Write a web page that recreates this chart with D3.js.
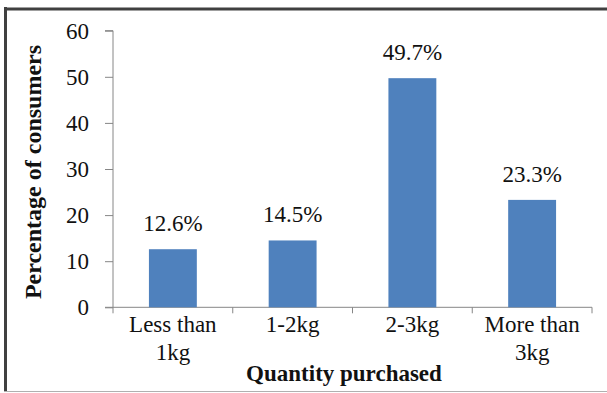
<!DOCTYPE html>
<html><head><meta charset="utf-8">
<script src="https://cdn.jsdelivr.net/npm/d3@7"></script>
<style>body{margin:0;background:#fff;} svg{display:block;} text{font-family:"Times New Roman","Liberation Serif",serif;}</style>
</head><body>
<svg id="c" width="607" height="393"></svg>
<script>
const categories = [["Less than","1kg"],["1-2kg"],["2-3kg"],["More than","3kg"]];
const values = [12.6, 14.5, 49.7, 23.3];
const valueLabels = ["12.6%","14.5%","49.7%","23.3%"];
const yTicks = [0,10,20,30,40,50,60];
const xTitle = "Quantity purchased";
const yTitle = "Percentage of consumers";

(function(){
const svg = d3.select("#c");
const pL = 113, pR = 592, pT = 30.7, pB = 307.3;
const fs = 23;

// frame
svg.append("line").attr("x1",5.5).attr("x2",5.5).attr("y1",7).attr("y2",392).attr("stroke","#404040").attr("stroke-width",3);
svg.append("line").attr("x1",4).attr("x2",607).attr("y1",9).attr("y2",9).attr("stroke","#404040").attr("stroke-width",3);
svg.append("line").attr("x1",4).attr("x2",607).attr("y1",391.5).attr("y2",391.5).attr("stroke","#b0b0b0").attr("stroke-width",1);

const x = d3.scaleBand().domain(d3.range(values.length)).range([pL,pR]).paddingInner(0.6).paddingOuter(0.3);
const xb = d3.scaleBand().domain(d3.range(values.length)).range([pL,pR]);
const y = d3.scaleLinear().domain([0,60]).range([pB,pT]);

// y axis
const ya = svg.append("g").attr("transform",`translate(${pL},0)`)
  .call(d3.axisLeft(y).tickValues(yTicks).tickSize(8).tickPadding(16));
ya.attr("font-family",null).attr("font-size",null);
ya.select(".domain").attr("stroke","#868686").attr("d",`M-8,${pT}H0V${pB}`);
ya.selectAll(".tick line").attr("stroke","#868686");
ya.selectAll("text").style("font-size",fs+"px").attr("fill","#111");

// x axis
const xa = svg.append("g").attr("transform",`translate(0,${pB})`);
xa.append("path").attr("d",`M${pL-8},0H${pR}`).attr("stroke","#868686").attr("fill","none");
xa.selectAll("line.t").data(d3.range(values.length+1)).join("line").attr("class","t")
  .attr("x1",i=> i<values.length? xb(i): xb(values.length-1)+xb.bandwidth())
  .attr("x2",i=> i<values.length? xb(i): xb(values.length-1)+xb.bandwidth())
  .attr("y1",0).attr("y2",6).attr("stroke","#868686");

// bars
svg.selectAll("rect.bar").data(values).join("rect").attr("class","bar")
  .attr("x",(d,i)=>x(i)).attr("width",x.bandwidth())
  .attr("y",d=>y(d)).attr("height",d=>pB-y(d))
  .attr("fill","#4f81bd");

// value labels
svg.selectAll("text.vl").data(values).join("text").attr("class","vl")
  .attr("x",(d,i)=>x(i)+x.bandwidth()/2).attr("y",d=>y(d)-18)
  .attr("text-anchor","middle").style("font-size",fs+"px").attr("fill","#111")
  .text((d,i)=>valueLabels[i]);

// category labels
categories.forEach((lines,i)=>{
  const t = svg.append("text").attr("text-anchor","middle").style("font-size",fs+"px").attr("fill","#111");
  lines.forEach((s,j)=>{
    t.append("tspan").attr("x",x(i)+x.bandwidth()/2).attr("y",pB+25+j*28).text(s);
  });
});

// titles
svg.append("text").attr("x",344).attr("y",381).attr("text-anchor","middle")
  .style("font-size",fs+"px").attr("font-weight","bold").attr("fill","#111").text(xTitle);
svg.append("text").attr("transform","translate(41,172) rotate(-90)").attr("text-anchor","middle")
  .style("font-size","24px").attr("font-weight","bold").attr("fill","#111").text(yTitle);
})();
</script>
</body></html>
